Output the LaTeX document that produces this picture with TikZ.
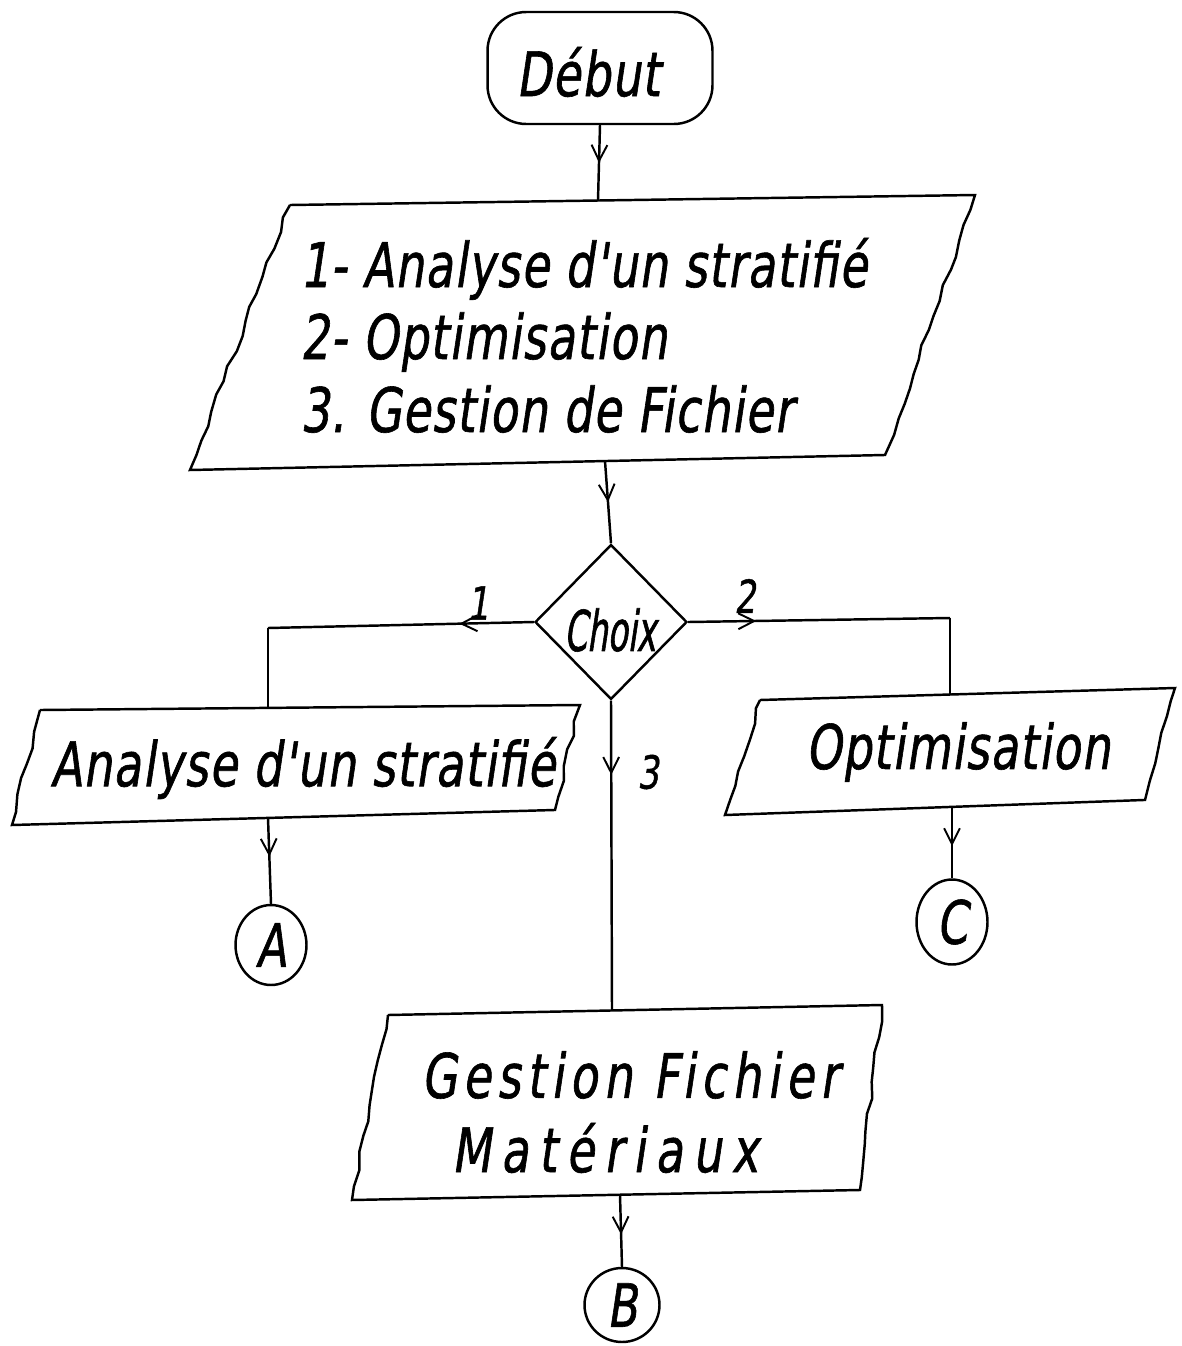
\documentclass[tikz,border=0pt]{standalone}
\usepackage{fontspec}
\newfontfamily\hand{DejaVu Sans}[FakeSlant=0.15,FakeStretch=0.74,FakeBold=1,LetterSpace=2]
\newfontfamily\handn{DejaVu Sans}[FakeSlant=0.15,FakeStretch=0.58,FakeBold=1]
\usetikzlibrary{shapes.geometric,arrows.meta,decorations.markings,decorations.pathmorphing}
\tikzset{
  x=0.02cm, y=-0.02cm,
  line/.style={line width=1.4pt},
  flow/.style={line, postaction={decorate}, decoration={markings, mark=at position #1 with {\arrow{Straight Barb[length=9pt,width=9pt,line width=1.1pt]}}}},
  flow/.default=0.5,
  wavy/.style={decoration={random steps, segment length=9pt, amplitude=1.3pt}},
  big/.style={font=\hand\fontsize{35}{40}\selectfont, inner sep=0pt},
  mid/.style={font=\handn\fontsize{32}{36}\selectfont, inner sep=0pt},
  circ/.style={font=\hand\fontsize{34}{38}\selectfont, inner sep=0pt},
  small/.style={font=\hand\fontsize{26}{30}\selectfont, inner sep=0pt},
}
\begin{document}
\begin{tikzpicture}
\pgfmathsetseed{7}
\useasboundingbox (0,0) rectangle (1181,1346);

% Debut
\node[draw, line, rounded corners=22pt, minimum width=4.5cm, minimum height=2.24cm, inner sep=0pt] (debut) at (600,68) {};
\node[big] (debuttxt) at (588,72) {Début};

% big parallelogram
\draw[line] (290,205) -- (975,195) decorate[wavy]{-- (885,455)} -- (190,470) decorate[wavy]{-- (290,205)};
\coordinate (top1) at (598,200.5);
\coordinate (bot1) at (605,461);
\node[big, anchor=base west] (l1) at (300,287) {1- Analyse d'un stratifié};
\node[big, anchor=base west] (l2) at (300,359) {2- Optimisation};
\node[big, anchor=base west] (l3) at (300,432) {3. Gestion de Fichier};

% diamond
\node[draw, line, diamond, minimum width=3.04cm, minimum height=3.1cm, inner sep=0pt] (choix) at (611,622) {};
\node[mid] (choixtxt) at (610,630) {Choix};

% left box
\draw[line] (40,710) -- (580,705) decorate[wavy]{-- (555,810)} -- (12,825) decorate[wavy]{-- (40,710)};
\node[big] (lbt) at (303,768) {Analyse d'un stratifié};
\coordinate (k1) at (268,628);
\coordinate (lt) at (268,708);
\coordinate (lb) at (268,818);

% right box
\draw[line] (760,700) -- (1175,688) decorate[wavy]{-- (1145,800)} -- (725,815) decorate[wavy]{-- (760,700)};
\node[big] (rbt) at (958,752) {Optimisation};
\coordinate (k2) at (950,618);
\coordinate (rt) at (950,694.5);
\coordinate (rb) at (952,807);

% gestion box
\draw[line] (388,1015) -- (882,1005) decorate[wavy]{-- (860,1190)} -- (352,1200) decorate[wavy]{-- (388,1015)};
\node[big, font=\hand\addfontfeature{LetterSpace=10}\fontsize{35}{40}\selectfont] (g1) at (630,1075) {Gestion Fichier};
\node[big, font=\hand\addfontfeature{LetterSpace=16}\fontsize{35}{40}\selectfont] (g2) at (605,1148) {Matériaux};
\coordinate (gt) at (612,1010);
\coordinate (gb) at (620,1195);

% connectors (circles)
\node[draw, line, ellipse, minimum width=1.42cm, minimum height=1.6cm, inner sep=0pt, circ] (A) at (271,945) {A};
\node[draw, line, ellipse, minimum width=1.5cm, minimum height=1.48cm, inner sep=0pt, circ] (B) at (622,1305) {B};
\node[draw, line, ellipse, minimum width=1.42cm, minimum height=1.7cm, inner sep=0pt, circ] (C) at (952,922) {C};

% flows
\draw[flow=0.5] (debut.south) -- (top1);
\draw[flow=0.5] (bot1) -- (choix.north);
\draw[flow=0.28] (choix.west) -- (k1);
\draw[line] (k1) -- (lt);
\draw[flow=0.26] (choix.east) -- (k2);
\draw[line] (k2) -- (rt);
\draw[flow=0.24] (choix.south) -- (gt);
\draw[flow=0.45] (lb) -- (A.north);
\draw[flow=0.55] (rb) -- (C.north);
\draw[flow=0.55] (gb) -- (B.north);

% labels
\node[small] (n1) at (478,603) {1};
\node[small] (n2) at (745,596) {2};
\node[small] (n3) at (648,772) {3};
\end{tikzpicture}
\end{document}
